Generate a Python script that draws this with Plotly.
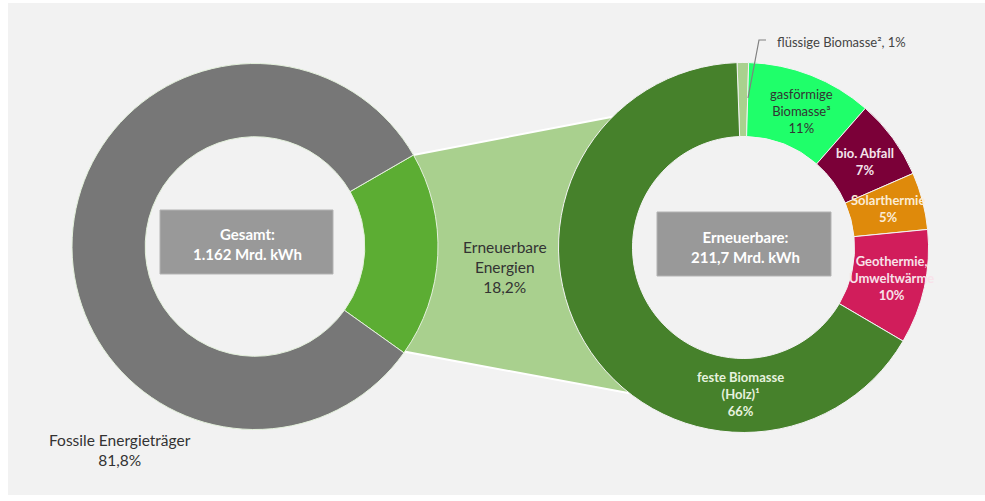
import math
import plotly.graph_objects as go

W, H = 985, 501

# ---------------- data ----------------
total_labels = ["Erneuerbare Energien", "Fossile Energieträger"]
total_shares = [18.2, 81.8]
total_center = "Gesamt:<br>1.162 Mrd. kWh"

ren_labels = ["flüssige Biomasse²", "gasförmige Biomasse³", "bio. Abfall",
              "Solarthermie", "Geothermie, Umweltwärme", "feste Biomasse (Holz)¹"]
ren_shares = [1, 11, 7, 5, 10, 66]
ren_center = "Erneuerbare:<br>211,7 Mrd. kWh"

total_texts = ["Erneuerbare<br>Energien<br>18,2%", "Fossile Energieträger<br>81,8%"]
ren_texts = ["flüssige Biomasse², 1%", "gasförmige<br>Biomasse³<br>11%", "bio. Abfall<br>7%",
             "Solarthermie<br>5%", "Geothermie,<br>Umweltwärme<br>10%",
             "feste Biomasse<br>(Holz)¹<br>66%"]

# ---------------- style ----------------
FONT = "Lato"
total_colors = ["#5cad33", "#777777"]
ren_colors = ["#a9d18e", "#1fff6a", "#7b0038", "#df8a0b", "#d11d5b", "#46812b"]
conn_color = "#a9d08e"

L_CX, L_CY, L_R = 255, 246.5, 183
R_CX, R_CY, R_R = 743.5, 247.5, 185
L_ROT, R_ROT = 60, -2
HOLE = 0.6


def px(x):
    return x / W


def py(y):
    return 1 - y / H


def dom(cx, cy, r):
    return dict(x=[px(cx - r), px(cx + r)], y=[py(cy + r), py(cy - r)])


def pt(cx, cy, r, ang):
    a = math.radians(ang)
    return cx + r * math.sin(a), cy - r * math.cos(a)


fig = go.Figure()

fig.add_trace(go.Pie(
    labels=total_labels, values=total_shares, hole=HOLE, sort=False,
    direction="clockwise", rotation=L_ROT, textinfo="none",
    marker=dict(colors=total_colors, line=dict(color="#e4f1dc", width=1)),
    domain=dom(L_CX, L_CY, L_R), showlegend=False, hoverinfo="label+percent",
))
fig.add_trace(go.Pie(
    labels=ren_labels, values=ren_shares, hole=HOLE, sort=False,
    direction="clockwise", rotation=R_ROT, textinfo="none",
    marker=dict(colors=ren_colors, line=dict(color="#f4f4f4", width=1)),
    domain=dom(R_CX, R_CY, R_R), showlegend=False, hoverinfo="label+percent",
))

shapes = []
# background panel
shapes.append(dict(type="rect", xref="paper", yref="paper",
                   x0=px(8), x1=px(985), y0=py(495), y1=py(3),
                   fillcolor="#f2f2f2", line=dict(width=0), layer="below"))

# connector between the two donuts
a0 = L_ROT
a1 = L_ROT + 360 * total_shares[0] / sum(total_shares)
p1 = pt(L_CX, L_CY, L_R, a0)
p4 = pt(L_CX, L_CY, L_R - 3, a1)
p2 = pt(R_CX, R_CY, R_R, 315)
p3 = pt(R_CX, R_CY, R_R, 218)
path = "M {} {} L {} {} L {} {} L {} {} Z".format(
    px(p1[0]), py(p1[1]), px(p2[0]), py(p2[1]),
    px(p3[0]), py(p3[1]), px(p4[0]), py(p4[1]))
shapes.append(dict(type="path", xref="paper", yref="paper", path=path,
                   fillcolor=conn_color, line=dict(color="white", width=2),
                   layer="below"))

# center boxes
for (x0, y0, x1, y1) in [(160, 210, 333, 274), (657, 212, 831, 276)]:
    shapes.append(dict(type="rect", xref="paper", yref="paper",
                       x0=px(x0), x1=px(x1), y0=py(y1), y1=py(y0),
                       fillcolor="#999999", line=dict(color="#b3b3b3", width=1),
                       layer="above"))

# leader line for flüssige Biomasse
shapes.append(dict(type="path", xref="paper", yref="paper",
                   path="M {} {} L {} {} L {} {}".format(px(766), py(40), px(759), py(40), px(748), py(98)),
                   line=dict(color="#808080", width=1.2), layer="above"))

annotations = []


def ann(x, y, text, color, size=13, bold=False, xanchor="center"):
    annotations.append(dict(
        x=px(x), y=py(y), xref="paper", yref="paper", text=text, showarrow=False,
        xanchor=xanchor, yanchor="middle", align="center",
        font=dict(family=FONT, size=size, color=color, weight=700 if bold else 400)))


ann(247, 244, total_center, "white", size=15, bold=True)
ann(745, 247, ren_center, "white", size=15, bold=True)

ann(505, 267, total_texts[0], "#333333", size=15.5)
ann(120, 450, total_texts[1], "#333333", size=15.5)

ren_pos = [(841, 42, "#444444", False, "center"),
           (801, 111, "#333333", False, "center"),
           (865, 161, "#f4e4ec", True, "center"),
           (888, 209, "#fbecd6", True, "center"),
           (891, 278, "#f8e2ea", True, "center"),
           (740, 394, "#e6f2df", True, "center")]
for txt, (x, y, c, b, xa) in zip(ren_texts, ren_pos):
    ann(x, y, txt, c, size=13, bold=b, xanchor=xa)

fig.update_layout(
    width=W, height=H, margin=dict(l=0, r=0, t=0, b=0),
    paper_bgcolor="white", plot_bgcolor="white",
    shapes=shapes, annotations=annotations, showlegend=False,
    font=dict(family=FONT),
)

fig.write_html("out.html", config={"displayModeBar": False},
               post_script="document.body.style.margin='0';document.body.style.overflow='hidden';")
